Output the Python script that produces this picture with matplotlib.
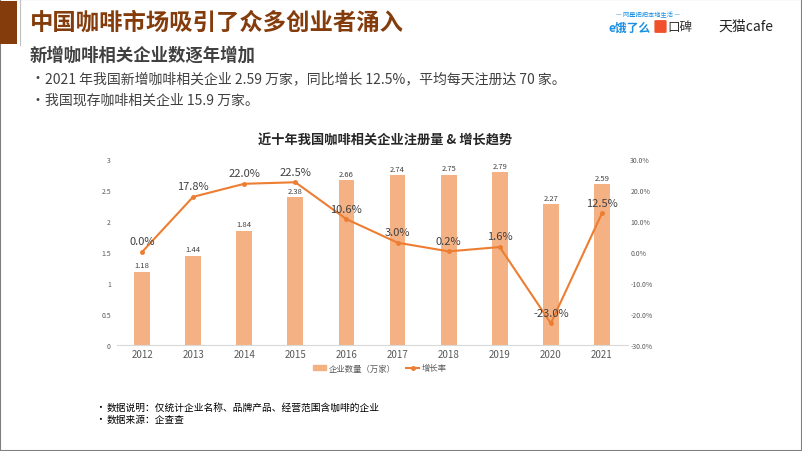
import matplotlib
matplotlib.use('Agg')
import matplotlib.pyplot as plt
import matplotlib.patches as patches
from matplotlib.lines import Line2D

plt.rcParams['font.family'] = ['Noto Sans CJK SC', 'DejaVu Sans']

years = ['2012', '2013', '2014', '2015', '2016', '2017', '2018', '2019', '2020', '2021']
companies = [1.18, 1.44, 1.84, 2.38, 2.66, 2.74, 2.75, 2.79, 2.27, 2.59]
growth = [0.0, 17.8, 22.0, 22.5, 10.6, 3.0, 0.2, 1.6, -23.0, 12.5]
left_ticks = [0, 0.5, 1, 1.5, 2, 2.5, 3]
right_ticks = [-30, -20, -10, 0, 10, 20, 30]

bar_color = '#F4B183'
line_color = '#ED7D31'
text_color = '#404040'

W, H = 802, 452
fig = plt.figure(figsize=(W / 100, H / 100), dpi=100)

# header / frame
fig.patches.append(patches.Rectangle((0, 0), 1, 1, transform=fig.transFigure,
                                     fill=False, edgecolor='#7f7f7f', linewidth=1.5))
fig.patches.append(patches.Rectangle((0, 1 - 45 / H), 17 / W, 43 / H, transform=fig.transFigure,
                                     facecolor='#843C0C', edgecolor='none'))
fig.add_artist(Line2D([20 / W, 20 / W], [1 - 46 / H, 1], transform=fig.transFigure,
                      color='#bfbfbf', linewidth=0.8))

fig.text(30 / W, 1 - 23 / H, '中国咖啡市场吸引了众多创业者涌入', fontsize=16.8, fontweight='bold',
         color='#843C0C', va='center', ha='left')
fig.text(30 / W, 1 - 56 / H, '新增咖啡相关企业数逐年增加', fontsize=12.5, fontweight='bold',
         color=text_color, va='center', ha='left')
bullets = ['2021 年我国新增咖啡相关企业 2.59 万家，同比增长 12.5%，平均每天注册达 70 家。',
           '我国现存咖啡相关企业 15.9 万家。']
for i, b in enumerate(bullets):
    yy = 1 - (79 + 22 * i) / H
    fig.text(30 / W, yy, '•', fontsize=10, color=text_color, va='center', ha='left')
    fig.text(45 / W, yy, b, fontsize=10, color=text_color, va='center', ha='left')

# logos as text
fig.text(648 / W, 1 - 15 / H, '— 网星把把本地生活 —', fontsize=4.5, color='#1a8fe3', ha='center', va='center')
fig.text(630 / W, 1 - 28 / H, 'e饿了么', fontsize=8.5, color='#1a8fe3', ha='center', va='center', fontweight='bold')
fig.add_artist(patches.FancyBboxPatch((656 / W, 1 - 33 / H), 9 / W, 11 / H, transform=fig.transFigure,
                                      boxstyle='round,pad=0.002', facecolor='#f0512a', edgecolor='none'))
fig.text(680 / W, 1 - 28 / H, '口碑', fontsize=9, color='#333333', ha='center', va='center')
fig.text(746 / W, 1 - 27 / H, '天猫cafe', fontsize=10, color='#222222', ha='center', va='center')

# chart title
fig.text(385 / W, 1 - 141 / H, '近十年我国咖啡相关企业注册量 & 增长趋势', fontsize=9.5, fontweight='bold',
         color='#262626', ha='center', va='center')

# axes: plot area x 116.5..627.5, y 160..346
ax = fig.add_axes([116.5 / W, 1 - 346 / H, 511 / W, 186 / H])
x = range(len(years))
ax.bar(x, companies, width=0.31, color=bar_color, zorder=2)
for xi, v in zip(x, companies):
    ax.text(xi, v + 0.04, f'{v:.2f}', ha='center', va='bottom', fontsize=5.5, color=text_color)
ax.set_ylim(0, 3)
ax.set_xlim(-0.5, len(years) - 0.5)
ax.set_yticks(left_ticks)
ax.set_yticklabels([f'{t:g}' for t in left_ticks])
ax.set_xticks(list(x))
ax.set_xticklabels(years)
ax.tick_params(axis='y', length=0, labelsize=5, labelcolor='#595959', pad=4)
ax.tick_params(axis='x', length=0, labelsize=7, labelcolor='#595959', pad=3)
for s in ['top', 'left', 'right']:
    ax.spines[s].set_visible(False)
ax.spines['bottom'].set_color('#d9d9d9')
ax.spines['bottom'].set_linewidth(0.8)

ax2 = ax.twinx()
ax2.plot(list(x), growth, color=line_color, linewidth=1.5, marker='o', markersize=2.5, zorder=3)
for xi, g in zip(x, growth):
    ax2.annotate(f'{g:.1f}%', (xi, g), xytext=(0, 4), textcoords='offset points',
                 ha='center', va='bottom', fontsize=8, color=text_color)
ax2.set_ylim(-30, 30)
ax2.set_yticks(right_ticks)
ax2.set_yticklabels([f'{t:.1f}%' for t in right_ticks])
ax2.tick_params(axis='y', length=0, labelsize=5, labelcolor='#595959', pad=2)
for s in ['top', 'left', 'right', 'bottom']:
    ax2.spines[s].set_visible(False)

# legend
handles = [patches.Patch(color=bar_color, label='企业数量（万家）'),
           Line2D([], [], color=line_color, marker='o', markersize=2.5, linewidth=1.5, label='增长率')]
fig.legend(handles=handles, loc='center', bbox_to_anchor=(380 / W, 1 - 369 / H), ncol=2,
           frameon=False, fontsize=6, labelcolor='#595959', handlelength=1.6, handleheight=0.6,
           columnspacing=1.2, handletextpad=0.3)

# footnotes
notes = ['数据说明：仅统计企业名称、品牌产品、经营范围含咖啡的企业', '数据来源：企查查']
for i, n in enumerate(notes):
    yy = 1 - (408 + 12 * i) / H
    fig.text(95 / W, yy, '•', fontsize=7, color='#000000', ha='left', va='center')
    fig.text(107 / W, yy, n, fontsize=7, color='#000000', ha='left', va='center')

fig.savefig('out.png', dpi=100)
